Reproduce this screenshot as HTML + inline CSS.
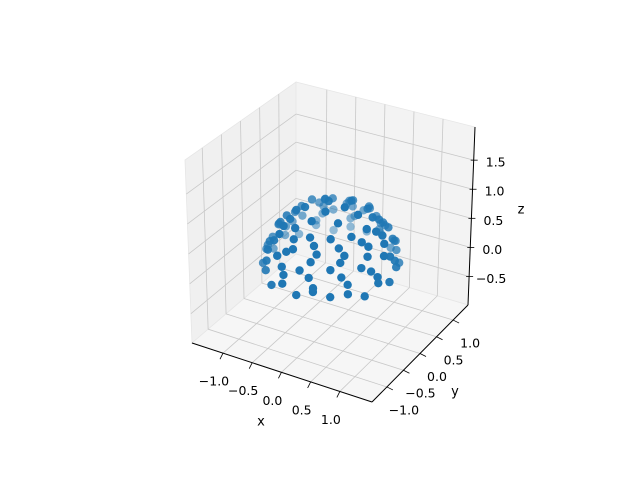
<!DOCTYPE html>
<html><head><meta charset="utf-8"><style>
html,body{margin:0;padding:0;background:#fff;}
svg{display:block;font-family:"DejaVu Sans","Liberation Sans",sans-serif;}
</style></head><body>
<svg id="chart" width="640" height="478" viewBox="0 0 640 478" xmlns="http://www.w3.org/2000/svg">
<g id="panes"></g>
<g id="grid"></g>
<g id="axes"></g>
<g id="labels"></g>
<g id="points"></g>
</svg>
<script>
const xTicks=[-1.0,-0.5,0.0,0.5,1.0];
const yTicks=[-1.0,-0.5,0.0,0.5,1.0];
const zTicks=[-0.5,0.0,0.5,1.0,1.5];
const xTickLabels=["−1.0","−0.5","0.0","0.5","1.0"];
const yTickLabels=["−1.0","−0.5","0.0","0.5","1.0"];
const zTickLabels=["−0.5","0.0","0.5","1.0","1.5"];
const xLim=[-1.53,1.55];
const yLim=[-1.45,1.45];
const zLim=[-0.99,2.07];
const xs=[1,0.87,0.5,0,-0.5,-0.87,-1,-0.87,-0.5,0,0.5,0.87,
0.94,0.69,0.25,-0.25,-0.69,-0.94,-0.94,-0.69,-0.25,0.25,0.69,0.94,
0.9,0.78,0.45,0,-0.45,-0.78,-0.9,-0.78,-0.45,0,0.45,0.78,
0.75,0.55,0.2,-0.2,-0.55,-0.75,-0.75,-0.55,-0.2,0.2,0.55,0.75,
0.6,0.52,0.3,0,-0.3,-0.52,-0.6,-0.52,-0.3,0,0.3,0.52,
0.39,0.1,-0.28,-0.39,-0.1,0.28,
0.17,-0.13,0,
0.96,0.7,0.26,-0.26,-0.7,-0.96,-0.96,-0.7,-0.26,0.26,0.7,0.96,
0.91,0.72,0.32,-0.16,-0.6,-0.87,-0.91,-0.72,-0.32,0.16,0.6,0.87,
0.82,0.65,0.29,-0.14,-0.54,-0.79,-0.82,-0.65,-0.29,0.14,0.54,0.79,
0.69,0.54,0.24,-0.12,-0.45,-0.66,-0.69,-0.54,-0.24,0.12,0.45,0.66];
const ys=[0,0.5,0.87,1,0.87,0.5,0,-0.5,-0.87,-1,-0.87,-0.5,
0.25,0.69,0.94,0.94,0.69,0.25,-0.25,-0.69,-0.94,-0.94,-0.69,-0.25,
0,0.45,0.78,0.9,0.78,0.45,0,-0.45,-0.78,-0.9,-0.78,-0.45,
0.2,0.55,0.75,0.75,0.55,0.2,-0.2,-0.55,-0.75,-0.75,-0.55,-0.2,
0,0.3,0.52,0.6,0.52,0.3,0,-0.3,-0.52,-0.6,-0.52,-0.3,
0.1,0.39,0.28,-0.1,-0.39,-0.28,
0.09,0.13,-0.17,
0.26,0.7,0.96,0.96,0.7,0.26,-0.26,-0.7,-0.96,-0.96,-0.7,-0.26,
0.16,0.6,0.87,0.91,0.72,0.32,-0.16,-0.6,-0.87,-0.91,-0.72,-0.32,
0.14,0.54,0.79,0.82,0.65,0.29,-0.14,-0.54,-0.79,-0.82,-0.65,-0.29,
0.12,0.45,0.66,0.69,0.54,0.24,-0.12,-0.45,-0.66,-0.69,-0.54,-0.24];
const zs=[0.05,0.07,0.02,0.09,0.04,0.06,0.03,0.08,0.01,0.06,0.11,0.04,
0.26,0.29,0.23,0.28,0.25,0.3,0.24,0.27,0.29,0.22,0.28,0.25,
0.46,0.48,0.44,0.51,0.46,0.43,0.49,0.45,0.47,0.42,0.5,0.46,
0.66,0.64,0.68,0.65,0.67,0.63,0.66,0.69,0.64,0.67,0.65,0.68,
0.83,0.85,0.82,0.84,0.83,0.86,0.81,0.83,0.85,0.82,0.84,0.83,
0.96,0.97,0.95,0.97,0.96,0.98,
1.03,1.03,1.04,
0.15,0.13,0.17,0.12,0.16,0.14,0.17,0.11,0.15,0.17,0.13,0.16,
0.37,0.35,0.39,0.36,0.38,0.37,0.34,0.4,0.37,0.35,0.39,0.36,
0.57,0.59,0.55,0.58,0.56,0.6,0.57,0.55,0.59,0.56,0.58,0.57,
0.75,0.74,0.77,0.75,0.76,0.74,0.75,0.78,0.75,0.76,0.74,0.75];

const NS="http://www.w3.org/2000/svg";
const C=[[[[192,343],[185,160]],[[296,254],[296,82]]],[[[372,402],[373,216]],[[468,305],[475,127]]]];
function proj(x,y,z){
  const u=(x-xLim[0])/(xLim[1]-xLim[0]),v=(y-yLim[0])/(yLim[1]-yLim[0]),w=(z-zLim[0])/(zLim[1]-zLim[0]);
  let px=0,py=0;
  for(let i=0;i<2;i++)for(let j=0;j<2;j++)for(let k=0;k<2;k++){
    const f=(i?u:1-u)*(j?v:1-v)*(k?w:1-w);px+=f*C[i][j][k][0];py+=f*C[i][j][k][1];}
  return [px,py];
}
function mk(tag,attrs,parent,name){const e=document.createElementNS(NS,tag);for(const a in attrs)e.setAttribute(a,attrs[a]);
  
  
  parent.appendChild(e);return e;}
function line(p,q,stroke,w,parent,name){return mk('line',{x1:p[0],y1:p[1],x2:q[0],y2:q[1],stroke:stroke,'stroke-width':w},parent,name);}
function poly(pts,fill,parent,name){return mk('polygon',{points:pts.map(p=>p.join(',')).join(' '),fill:fill,stroke:'#e6e6e6','stroke-width':0.8},parent,name);}
const X0=xLim[0],X1=xLim[1],Y0=yLim[0],Y1=yLim[1],Z0=zLim[0],Z1=zLim[1];
const panes=document.getElementById('panes'),grid=document.getElementById('grid'),axes=document.getElementById('axes'),labels=document.getElementById('labels'),pts=document.getElementById('points');
poly([proj(X0,Y0,Z0),proj(X0,Y1,Z0),proj(X0,Y1,Z1),proj(X0,Y0,Z1)],'#f0f0f0',panes,'x-pane-left-wall');
poly([proj(X0,Y1,Z0),proj(X1,Y1,Z0),proj(X1,Y1,Z1),proj(X0,Y1,Z1)],'#f3f3f3',panes,'y-pane-right-wall');
poly([proj(X0,Y0,Z0),proj(X1,Y0,Z0),proj(X1,Y1,Z0),proj(X0,Y1,Z0)],'#f6f6f6',panes,'z-pane-floor');
const gc='#c8c8c8';
xTicks.forEach(t=>{line(proj(t,Y0,Z0),proj(t,Y1,Z0),gc,0.8,grid,'x-grid-floor');line(proj(t,Y1,Z0),proj(t,Y1,Z1),gc,0.8,grid,'x-grid-wall');});
yTicks.forEach(t=>{line(proj(X0,t,Z0),proj(X1,t,Z0),gc,0.8,grid,'y-grid-floor');line(proj(X0,t,Z0),proj(X0,t,Z1),gc,0.8,grid,'y-grid-wall');});
zTicks.forEach(t=>{line(proj(X0,Y0,t),proj(X0,Y1,t),gc,0.8,grid,'z-grid-left');line(proj(X0,Y1,t),proj(X1,Y1,t),gc,0.8,grid,'z-grid-right');});
line(proj(X0,Y0,Z0),proj(X1,Y0,Z0),'#000',1,axes,'x-axis-line');
line(proj(X1,Y0,Z0),proj(X1,Y1,Z0),'#000',1,axes,'y-axis-line');
line(proj(X1,Y1,Z0),proj(X1,Y1,Z1),'#000',1,axes,'z-axis-line');
function txt(s,p,parent,name,size){const e=mk('text',{x:p[0],y:p[1],'font-size':size||12.5,'text-anchor':'middle','dominant-baseline':'central',fill:'#000'},parent,name);e.textContent=s;return e;}
xTicks.forEach((t,i)=>{const p=proj(t,Y0,Z0);line(p,[p[0]-3,p[1]+6],'#000',0.8,axes,'x-tick');txt(xTickLabels[i],[p[0]-9,p[1]+28],labels,'x-tick-label');});
yTicks.forEach((t,i)=>{const p=proj(X1,t,Z0);line(p,[p[0]+6,p[1]+3],'#000',0.8,axes,'y-tick');txt(yTickLabels[i],[p[0]+17,p[1]+23],labels,'y-tick-label');});
zTicks.forEach((t,i)=>{const p=proj(X1,Y1,t);line([p[0]-3,p[1]],[p[0]+4,p[1]],'#000',0.8,axes,'z-tick');txt(zTickLabels[i],[p[0]+22,p[1]+2],labels,'z-tick-label');});
txt('x',[261,422],labels,'x-axis-title',13);
txt('y',[455,392],labels,'y-axis-title',13);
txt('z',[521,210],labels,'z-axis-title',13);
const ex=0.433,ey=-0.75,ez=0.5;
const idx=xs.map((_,i)=>i);
const d=xs.map((x,i)=>x*ex+ys[i]*ey+zs[i]*ez);
const dmin=Math.min(...d),dmax=Math.max(...d);
idx.sort((a,b)=>d[a]-d[b]);
idx.forEach(i=>{const p=proj(xs[i],ys[i],zs[i]);const a=0.45+0.75*(d[i]-dmin)/(dmax-dmin);
  const c=document.createElementNS(NS,'circle');c.setAttribute('cx',p[0]);c.setAttribute('cy',p[1]);c.setAttribute('r',4.2);
  c.setAttribute('fill','#1f77b4');c.setAttribute('fill-opacity',Math.min(1,a).toFixed(2));
  
  
  pts.appendChild(c);});
</script>
</body></html>
